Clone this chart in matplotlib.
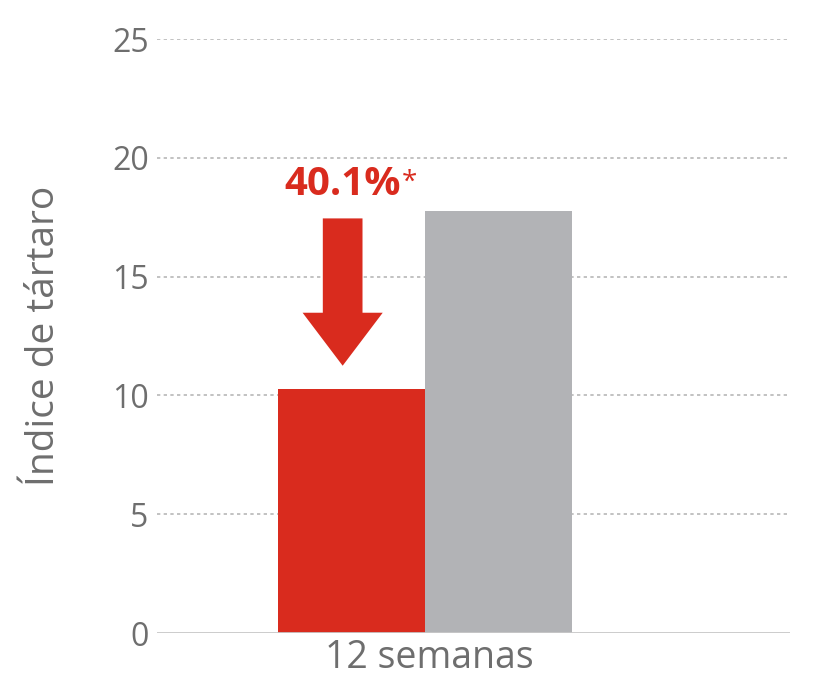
import matplotlib.pyplot as plt
from matplotlib.patches import FancyArrow

# datos
categorias = ["12 semanas"]
valores = [10.25, 17.75]      # rojo, gris
colores = ["#D92B1E", "#B2B3B6"]
reduccion = "40.1%"
yticks = [0, 5, 10, 15, 20, 25]

plt.rcParams['font.family'] = ['Open Sans', 'DejaVu Sans']
gris_txt = "#6e6e6e"

fig = plt.figure(figsize=(8.28, 6.98), dpi=100)
ax = fig.add_axes([0.1896, 0.0931, 0.7645, 0.851])

w = 1.0
xs = [-w / 2, w / 2]
ax.bar(xs, valores, width=w, color=colores, zorder=3)

ax.set_ylim(0, 25)
ax.set_xlim(-1.823, 2.483)
ax.set_yticks(yticks)
ax.set_xticks([0.03])
ax.set_xticklabels(categorias)
ax.tick_params(axis='y', length=0, labelsize=23, labelcolor=gris_txt, pad=6)
ax.tick_params(axis='x', length=0, labelsize=27, labelcolor=gris_txt, pad=4)

for s in ax.spines.values():
    s.set_visible(False)
for y in yticks[1:]:
    ax.axhline(y, color="#b8b8b8", lw=1.2, ls=(0, (2, 2)), zorder=1)
ax.axhline(0, color="#c8c8c8", lw=2, zorder=4)

ax.set_ylabel("Índice de tártaro", fontsize=28, color=gris_txt)
ax.yaxis.set_label_coords(-0.148, 0.5)

# flecha
xa = -0.56
tope = valores[0] + 1.0
cola = valores[1] - 0.3
ax.add_patch(FancyArrow(xa, cola, 0, tope - cola, width=0.27, head_width=0.545,
                        head_length=2.23, length_includes_head=True,
                        color=colores[0], lw=0, zorder=5))
t = ax.text(xa, cola + 0.6, reduccion, ha='center', va='bottom',
            fontsize=29, fontweight='bold', color=colores[0])
ax.annotate("*", xy=(1, 0.9), xycoords=t, xytext=(1, 0), textcoords='offset points',
            ha='left', va='top', fontsize=20, color=colores[0])

fig.savefig("out.png", dpi=100)
